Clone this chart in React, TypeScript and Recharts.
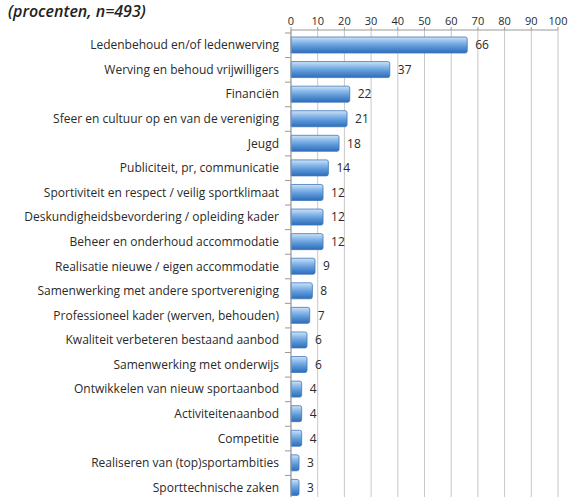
import React from 'react';
import { BarChart, Bar, XAxis, YAxis, CartesianGrid, LabelList } from 'recharts';

const categories = [
  'Ledenbehoud en/of ledenwerving',
  'Werving en behoud vrijwilligers',
  'Financiën',
  'Sfeer en cultuur op en van de vereniging',
  'Jeugd',
  'Publiciteit, pr, communicatie',
  'Sportiviteit en respect / veilig sportklimaat',
  'Deskundigheidsbevordering / opleiding kader',
  'Beheer en onderhoud accommodatie',
  'Realisatie nieuwe / eigen accommodatie',
  'Samenwerking met andere sportvereniging',
  'Professioneel kader (werven, behouden)',
  'Kwaliteit verbeteren bestaand aanbod',
  'Samenwerking met onderwijs',
  'Ontwikkelen van nieuw sportaanbod',
  'Activiteitenaanbod',
  'Competitie',
  'Realiseren van (top)sportambities',
  'Sporttechnische zaken',
];
const values = [66, 37, 22, 21, 18, 14, 12, 12, 12, 9, 8, 7, 6, 6, 4, 4, 4, 3, 3];
const xTicks = [0, 10, 20, 30, 40, 50, 60, 70, 80, 90, 100];
const title = '(procenten, n=493)';

const data = categories.map((name, i) => ({ name, value: values[i] }));

const FONT = '"Open Sans", "DejaVu Sans", sans-serif';
const BAND = 24.6;

const YTick = (props: any) => {
  const { x, y, payload } = props;
  return (
    <g>
      <line x1={x + 2} x2={x + 8} y1={y - BAND / 2} y2={y - BAND / 2} stroke="#999" strokeWidth={1} />
      <text x={x - 4} y={y} dy={4} textAnchor="end" fontSize={12} fill="#2a2a2a" fontFamily={FONT}>
        {payload.value}
      </text>
    </g>
  );
};

export default function App() {
  return (
    <div style={{ position: 'absolute', left: 0, top: 0, width: 572, height: 497, overflow: 'hidden', background: '#fff' }}>
      <BarChart
        width={572}
        height={500}
        data={data}
        layout="vertical"
        margin={{ top: 0, right: 14, bottom: 0, left: 0 }}
        barCategoryGap={4}
      >
        <defs>
          <linearGradient id="barGrad" x1="0" y1="0" x2="0" y2="1">
            <stop offset="0%" stopColor="#cfe3f7" />
            <stop offset="30%" stopColor="#8dbbea" />
            <stop offset="60%" stopColor="#5b97d8" />
            <stop offset="100%" stopColor="#2e6cb8" />
          </linearGradient>
        </defs>
        <CartesianGrid horizontal={false} stroke="#c8c8c8" />
        <XAxis
          type="number"
          orientation="top"
          domain={[0, 100]}
          ticks={xTicks}
          height={30}
          axisLine={{ stroke: '#999' }}
          tickLine={{ stroke: '#999' }}
          tickSize={3}
          tick={{ fontSize: 11, fill: '#2a2a2a', fontFamily: FONT }}
          interval={0}
        />
        <YAxis
          type="category"
          dataKey="name"
          width={291}
          axisLine={{ stroke: '#999' }}
          tickLine={false}
          tick={<YTick />}
          interval={0}
          padding={{ top: 3, bottom: 0 }}
        />
        <Bar dataKey="value" fill="url(#barGrad)" stroke="#3f78bd" strokeWidth={0.8} barSize={16} isAnimationActive={false} radius={[0, 2, 2, 0]}>
          <LabelList dataKey="value" position="right" offset={8} style={{ fontSize: 12, fill: '#2a2a2a', fontFamily: FONT }} />
        </Bar>
      </BarChart>
      <div style={{ position: 'absolute', left: 8, top: 2, fontFamily: FONT, fontStyle: 'italic', fontWeight: 600, fontSize: 16, lineHeight: '18px', color: '#222' }}>
        {title}
      </div>
    </div>
  );
}
